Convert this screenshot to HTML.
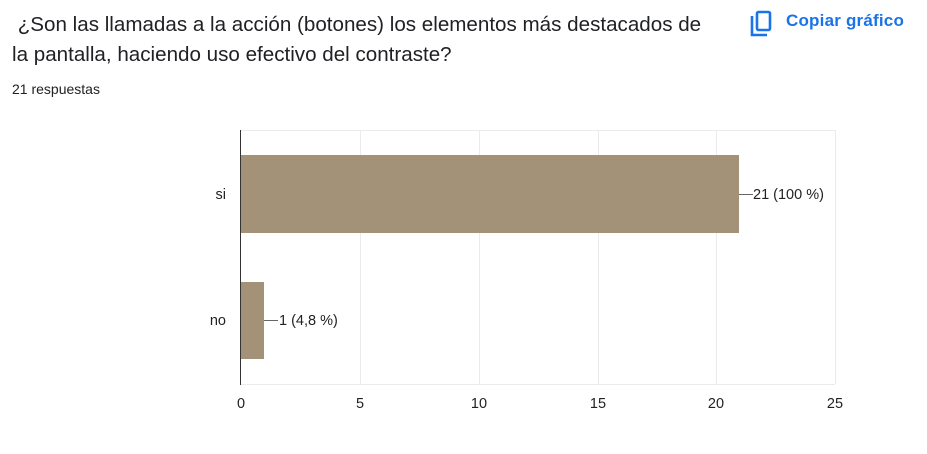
<!DOCTYPE html>
<html><head><meta charset="utf-8"><style>
body{margin:0;width:927px;height:454px;background:#fff;font-family:"Liberation Sans",sans-serif;position:relative;overflow:hidden}
.t{position:absolute;left:12px;top:10px;font-size:20.6px;line-height:30px;color:#202124;width:740px;white-space:nowrap}
.r{position:absolute;left:12px;top:81px;font-size:14px;color:#202124}
.c{position:absolute;left:786px;top:11px;font-size:17px;color:#1a73e8;font-weight:bold;letter-spacing:0.2px}
</style></head><body>
<div class="t">&nbsp;¿Son las llamadas a la acción (botones) los elementos más destacados de<br>la pantalla, haciendo uso efectivo del contraste?</div>
<div class="r">21 respuestas</div>
<svg style="position:absolute;left:750px;top:10px" width="24" height="28" viewBox="0 0 24 28"><path d="M2 6v19h15" fill="none" stroke="#1a73e8" stroke-width="2.6"/><rect x="7" y="2" width="13" height="18" rx="1.5" fill="none" stroke="#1a73e8" stroke-width="2.6"/></svg>
<div class="c">Copiar gráfico</div>
<svg style="position:absolute;left:0;top:0" width="927" height="454" font-family="Liberation Sans, sans-serif" font-size="14.5" fill="#222">
<g stroke="#ebebeb" stroke-width="1">
<line x1="360.5" y1="130" x2="360.5" y2="384"/><line x1="479.5" y1="130" x2="479.5" y2="384"/><line x1="598.5" y1="130" x2="598.5" y2="384"/><line x1="716.5" y1="130" x2="716.5" y2="384"/><line x1="835.5" y1="130" x2="835.5" y2="384"/>
<line x1="241" y1="130.5" x2="835" y2="130.5"/><line x1="241" y1="384.5" x2="835" y2="384.5"/>
</g>
<rect x="241" y="155" width="498" height="78" fill="#a39277"/>
<rect x="241" y="282" width="23" height="77" fill="#a39277"/>
<line x1="240.5" y1="130" x2="240.5" y2="385" stroke="#333"/>
<line x1="739" y1="194.5" x2="753" y2="194.5" stroke="#666"/>
<line x1="264" y1="320.5" x2="278" y2="320.5" stroke="#666"/>
<text x="753" y="199">21 (100 %)</text>
<text x="279" y="325">1 (4,8 %)</text>
<text x="226" y="199" text-anchor="end">si</text>
<text x="226" y="325" text-anchor="end">no</text>
<g text-anchor="middle"><text x="241" y="408">0</text><text x="360" y="408">5</text><text x="479" y="408">10</text><text x="598" y="408">15</text><text x="716" y="408">20</text><text x="835" y="408">25</text></g>
</svg>
</body></html>
